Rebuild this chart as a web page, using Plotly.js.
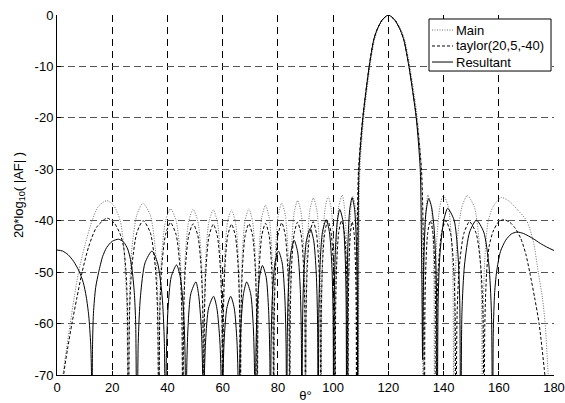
<!DOCTYPE html>
<html>
<head>
<meta charset="utf-8">
<script src="https://cdn.plot.ly/plotly-3.0.1.min.js"></script>
<style>html,body{margin:0;padding:0;background:#fff;}#chart{width:565px;height:403px;}</style>
</head>
<body>
<div id="chart"></div>
<script>
// Tick values
var xTicks = [0,20,40,60,80,100,120,140,160,180];
var yTicks = [-70,-60,-50,-40,-30,-20,-10,0];

// Series names
var seriesNames = ['Main', 'taylor(20,5,-40)', 'Resultant'];

// Main (dotted)
var mainX = [0,1,2.2,3.4,4.8,6.2,7.8,10,12.7,15,18,20.5,22.9,24,24.7,25.3,25.8,
 26.24,27.13,28.91,31.1,33.79,35.57,36.46,36.9,
 37.25,37.94,39.34,41.1,43.16,44.56,45.25,45.6,
 45.9,46.5,47.7,49.3,51.0,52.2,52.8,53.1,
 53.38,53.93,55.03,56.6,58.07,59.17,59.72,60,
 60.26,60.77,61.79,63.2,64.61,65.63,66.14,66.4,
 66.64,67.13,68.11,69.5,70.79,71.77,72.26,72.5,
 72.74,73.22,74.18,75.5,76.82,77.78,78.26,78.5,
 78.73,79.2,80.12,81.4,82.68,83.6,84.07,84.3,
 84.53,84.98,85.9,87.15,88.4,89.32,89.77,90,
 90.23,90.68,91.6,92.85,94.1,95.02,95.47,95.7,
 95.9,96.3,97.1,98.2,99.3,100.1,100.5,100.7,
 100.89,101.26,102.02,103.3,104.08,104.84,105.21,105.4,
 105.55,105.86,106.46,107.2,108.14,108.74,109.05,109.2,
 109.35,109.7,111.1,113.35,114.9,116.05,117.95,120.1,122.6,124.7,126.0,127.8,130.5,131.9,132.35,132.6,
 132.76,133.09,133.75,134.3,135.55,136.21,136.54,136.7,
 136.98,137.54,138.66,139.9,141.74,142.86,143.42,143.7,
 144.12,144.95,146.61,148.6,151.19,152.85,153.68,154.1,
 154.35,154.8,155.5,156.2,158,161,164,167,170.1,172.5,174.3,175.8,176.8,177.9,179,180];
var mainY = [-95,-80,-70,-65,-60,-55,-50,-45,-40,-37.2,-36.1,-37,-40,-44,-50,-57,-95,
 -54.6,-45.3,-38.9,-36.6,-38.9,-45.3,-54.6,-95,
 -55.7,-46.4,-40.0,-37.7,-40.0,-46.4,-55.7,-95,
 -55.8,-46.5,-40.1,-37.8,-40.1,-46.5,-55.8,-95,
 -55.9,-46.6,-40.2,-37.9,-40.2,-46.6,-55.9,-95,
 -55.9,-46.6,-40.2,-37.9,-40.2,-46.6,-55.9,-95,
 -55.7,-46.4,-40.0,-37.7,-40.0,-46.4,-55.7,-95,
 -55.0,-45.7,-39.3,-37.0,-39.3,-45.7,-55.0,-95,
 -54.6,-45.3,-38.9,-36.6,-38.9,-45.3,-54.6,-95,
 -54.1,-44.8,-38.4,-36.1,-38.4,-44.8,-54.1,-95,
 -53.6,-44.3,-37.9,-35.6,-37.9,-44.3,-53.6,-95,
 -53.3,-44.0,-37.6,-35.3,-37.6,-44.0,-53.3,-95,
 -53.0,-43.7,-37.3,-35.0,-37.3,-43.7,-53.0,-95,
 -53.3,-44.0,-37.6,-35.3,-37.6,-44.0,-53.3,-95,
 -48,-30,-20,-10,-5,-3,-1,0,-1,-3,-5,-10,-20,-30,-45,-95,
 -53.0,-43.7,-37.3,-35.0,-37.3,-43.7,-53.0,-95,
 -53.0,-43.7,-37.3,-35.0,-37.3,-43.7,-53.0,-95,
 -53.1,-43.8,-37.4,-35.1,-37.4,-43.8,-53.1,-95,
 -58,-49,-43,-40,-37.2,-35.5,-36.3,-38,-40,-44,-50,-55,-60,-70,-80,-95];

// taylor(20,5,-40) (dashed)
var taylorX = [0,1,2.4,3.8,5.4,7.2,9.1,11.5,14.3,18.1,20.8,22.8,24.1,25.0,25.5,25.84,
 26.28,27.16,28.93,31.2,33.78,35.55,36.43,36.87,
 37.22,37.91,39.31,41.1,43.13,44.53,45.22,45.57,
 45.87,46.48,47.69,49.3,51.01,52.22,52.83,53.13,
 53.40,53.95,55.05,56.6,58.08,59.18,59.73,60,
 60.26,60.77,61.80,63.2,64.62,65.65,66.16,66.42,
 66.66,67.15,68.13,69.5,70.83,71.81,72.30,72.54,
 72.78,73.25,74.20,75.5,76.80,77.75,78.22,78.46,
 78.69,79.16,80.08,81.4,82.64,83.56,84.03,84.26,
 84.49,84.95,85.87,87.1,88.39,89.31,89.77,90,
 90.22,90.66,91.54,92.8,93.97,94.85,95.29,95.51,
 95.72,96.14,96.97,98.1,99.26,100.1,100.51,100.72,
 100.91,101.28,102.02,103.0,104.07,104.81,105.18,105.37,
 105.49,105.74,106.24,106.9,107.61,108.11,108.36,108.48,
 108.7,109.2,110.7,113.05,114.6,115.8,117.7,120,122.35,124.4,125.7,127.5,130.2,132.0,132.7,133.08,
 133.25,133.59,134.26,135.2,136.13,136.8,137.14,137.31,
 137.60,138.17,139.32,140.8,142.48,143.63,144.2,144.49,
 144.9,145.71,147.35,149.4,151.83,153.47,154.28,154.69,
 154.95,155.6,156.5,158,160,161.8,164,166,168,169.8,171.2,173,174.6,176.7,178.5,180];
var taylorY = [-95,-82,-70,-65,-60,-55,-50,-45,-41.3,-39.5,-40.5,-42.5,-45,-50,-57,-95,
 -58,-48.7,-42.3,-40.0,-42.3,-48.7,-58,-95,
 -58.4,-49.1,-42.7,-40.4,-42.7,-49.1,-58.4,-95,
 -58.6,-49.3,-42.9,-40.6,-42.9,-49.3,-58.6,-95,
 -58.7,-49.4,-43.0,-40.7,-43.0,-49.4,-58.7,-95,
 -58.7,-49.4,-43.0,-40.7,-43.0,-49.4,-58.7,-95,
 -58.6,-49.3,-42.9,-40.6,-42.9,-49.3,-58.6,-95,
 -58.5,-49.2,-42.8,-40.5,-42.8,-49.2,-58.5,-95,
 -58.4,-49.1,-42.7,-40.4,-42.7,-49.1,-58.4,-95,
 -58.3,-49.0,-42.6,-40.3,-42.6,-49.0,-58.3,-95,
 -58.2,-48.9,-42.5,-40.2,-42.5,-48.9,-58.2,-95,
 -58.0,-48.7,-42.3,-40.0,-42.3,-48.7,-58.0,-95,
 -58.0,-48.7,-42.3,-40.0,-42.3,-48.7,-58.0,-95,
 -58.2,-48.9,-42.5,-40.2,-42.5,-48.9,-58.2,-95,
 -45,-30,-20,-10,-5,-3,-1,0,-1,-3,-5,-10,-20,-30,-45,-95,
 -58,-48.7,-42.3,-40.0,-42.3,-48.7,-58,-95,
 -58,-48.7,-42.3,-40.0,-42.3,-48.7,-58,-95,
 -58.2,-48.9,-42.5,-40.2,-42.5,-48.9,-58.2,-95,
 -60,-50,-45,-42,-40.2,-39.8,-40.3,-41.5,-43.5,-46.5,-50,-55,-60,-70,-80,-95];

// Resultant (solid)
var resX = [0,2,4,6,8,9.5,10.6,11.5,12.2,12.5,12.7,
 12.85,13.2,14,15.1,16.5,18,20,22.3,24.2,25.6,26.6,27.3,28.0,28.5,29.0,
 29.41,30.24,31.88,34.4,36.42,38.06,38.89,39.3,
 39.6,40.19,41.37,43.3,44.63,45.81,46.4,46.7,
 46.95,47.46,48.46,50.3,51.24,52.24,52.75,53.0,
 53.27,53.82,54.9,56.7,57.9,58.98,59.53,59.8,
 60.04,60.53,61.51,62.9,64.19,65.17,65.66,65.9,
 66.14,66.61,67.55,68.7,70.15,71.09,71.56,71.8,
 72.02,72.46,73.34,74.4,75.76,76.64,77.08,77.3,
 77.54,78.01,78.95,80.2,81.55,82.49,82.96,83.2,
 83.42,83.86,84.74,85.9,87.16,88.04,88.48,88.7,
 88.94,89.41,90.35,91.7,92.95,93.89,94.36,94.6,
 94.82,95.27,96.17,97.5,98.63,99.53,99.98,100.2,
 100.39,100.76,101.52,102.4,103.58,104.34,104.71,104.9,
 105.06,105.38,106.02,106.9,107.78,108.42,108.74,108.9,
 109.05,109.39,110.79,113.08,114.64,115.79,117.71,120,122.34,124.4,125.67,127.45,130.1,131.55,132.0,132.2,132.4,
 132.6,133.0,133.6,134.6,135.6,136.5,137.2,137.5,137.7,
 138.04,138.72,140.08,141.5,143.82,145.18,145.86,146.2,
 146.66,147.59,149.45,151.9,154.55,156.41,157.34,157.8,
 158.0,158.5,159.2,160.6,162.5,164.5,166.6,169,172.5,175,177.3,180];
var resY = [-45.7,-45.9,-46.6,-47.9,-49.8,-52,-54.8,-58.5,-64,-70,-95,
 -65,-58,-53,-50,-47,-45.2,-44,-43.6,-44.2,-45.5,-47.5,-50,-54,-60,-95,
 -63.9,-54.6,-48.2,-45.9,-48.2,-54.6,-63.9,-95,
 -66.6,-57.3,-50.9,-48.6,-50.9,-57.3,-66.6,-95,
 -69.9,-60.6,-54.2,-51.9,-54.2,-60.6,-69.9,-95,
 -72.7,-63.4,-57.0,-54.7,-57.0,-63.4,-72.7,-95,
 -72.7,-63.4,-57.0,-54.7,-57.0,-63.4,-72.7,-95,
 -69.9,-60.6,-54.2,-51.9,-54.2,-60.6,-69.9,-95,
 -66.7,-57.4,-51.0,-48.7,-51.0,-57.4,-66.7,-95,
 -63.9,-54.6,-48.2,-45.9,-48.2,-54.6,-63.9,-95,
 -61.8,-52.5,-46.1,-43.8,-46.1,-52.5,-61.8,-95,
 -59.5,-50.2,-43.8,-41.5,-43.8,-50.2,-59.5,-95,
 -57.8,-48.5,-42.1,-39.8,-42.1,-48.5,-57.8,-95,
 -55.8,-46.5,-40.1,-37.8,-40.1,-46.5,-55.8,-95,
 -53.5,-44.2,-37.8,-35.5,-37.8,-44.2,-53.5,-95,
 -45,-30,-20,-10,-5,-3,-1,0,-1,-3,-5,-10,-20,-30,-45,-55,-67,
 -55,-45,-38.5,-35.7,-37.2,-41,-48,-56,-95,
 -55.6,-46.3,-39.9,-37.6,-39.9,-46.3,-55.6,-95,
 -57.9,-48.6,-42.2,-39.9,-42.2,-48.6,-57.9,-95,
 -62,-54,-50,-46,-43.8,-42.6,-42.2,-42.5,-43.5,-44.4,-45.1,-45.8];

var lineStyles = [
  {color: '#6e6e6e', width: 1, dash: '1px,1.5px', shape: 'spline', smoothing: 0.7},
  {color: '#000000', width: 1, dash: '3px,2px', shape: 'spline', smoothing: 0.7},
  {color: '#000000', width: 1, dash: 'solid', shape: 'spline', smoothing: 0.7}
];

var traces = [
  {x: mainX, y: mainY, name: seriesNames[0], mode: 'lines', type: 'scatter', line: lineStyles[0], showlegend: false},
  {x: taylorX, y: taylorY, name: seriesNames[1], mode: 'lines', type: 'scatter', line: lineStyles[1], showlegend: false},
  {x: resX, y: resY, name: seriesNames[2], mode: 'lines', type: 'scatter', line: lineStyles[2], showlegend: false}
];

// Legend box drawn with shapes + annotations (paper coordinates)
var legBox = {x0: 0.7485, x1: 0.994, y0: 0.8444, y1: 0.9889};
var legRows = [0.9583, 0.9139, 0.8694];
var shapes = [{type: 'rect', xref: 'paper', yref: 'paper', x0: legBox.x0, x1: legBox.x1, y0: legBox.y0, y1: legBox.y1,
  line: {color: '#000', width: 1}, fillcolor: '#fff', layer: 'above'}];
var annotations = [];
for (var i = 0; i < 3; i++) {
  shapes.push({type: 'line', xref: 'paper', yref: 'paper', x0: 0.7545, x1: 0.7968, y0: legRows[i], y1: legRows[i],
    line: {color: lineStyles[i].color, width: 1, dash: lineStyles[i].dash}, layer: 'above'});
  annotations.push({xref: 'paper', yref: 'paper', x: 0.8008, y: legRows[i], xanchor: 'left', yanchor: 'middle',
    text: seriesNames[i], showarrow: false, font: {size: 13, color: '#000'}, borderpad: 0});
}

var layout = {
  width: 565, height: 403,
  margin: {l: 57, r: 11, t: 15, b: 28},
  paper_bgcolor: '#ffffff', plot_bgcolor: '#ffffff',
  font: {family: 'Liberation Sans, Arial, sans-serif', size: 13, color: '#000'},
  showlegend: false,
  shapes: shapes,
  annotations: annotations,
  xaxis: {
    range: [0, 180], tickvals: xTicks, ticktext: xTicks.map(String),
    ticks: 'inside', ticklen: 4, tickcolor: '#000',
    showline: true, linecolor: '#000', linewidth: 1, mirror: false,
    showgrid: true, gridcolor: '#000', gridwidth: 1, griddash: '7px,5px',
    zeroline: false,
    title: {text: 'θ°', standoff: 2, font: {size: 13}},
    automargin: false
  },
  yaxis: {
    range: [-70, 0], tickvals: yTicks, ticktext: yTicks.map(String),
    ticks: 'inside', ticklen: 4, tickcolor: '#000',
    showline: true, linecolor: '#000', linewidth: 1, mirror: false,
    showgrid: true, gridcolor: '#555', gridwidth: 1, griddash: '7px,4px',
    zeroline: false,
    title: {text: '20*log<sub>10</sub>( |AF| )', standoff: 8, font: {size: 13}},
    automargin: false
  }
};

Plotly.newPlot('chart', traces, layout, {staticPlot: true, displayModeBar: false});
</script>
</body>
</html>
